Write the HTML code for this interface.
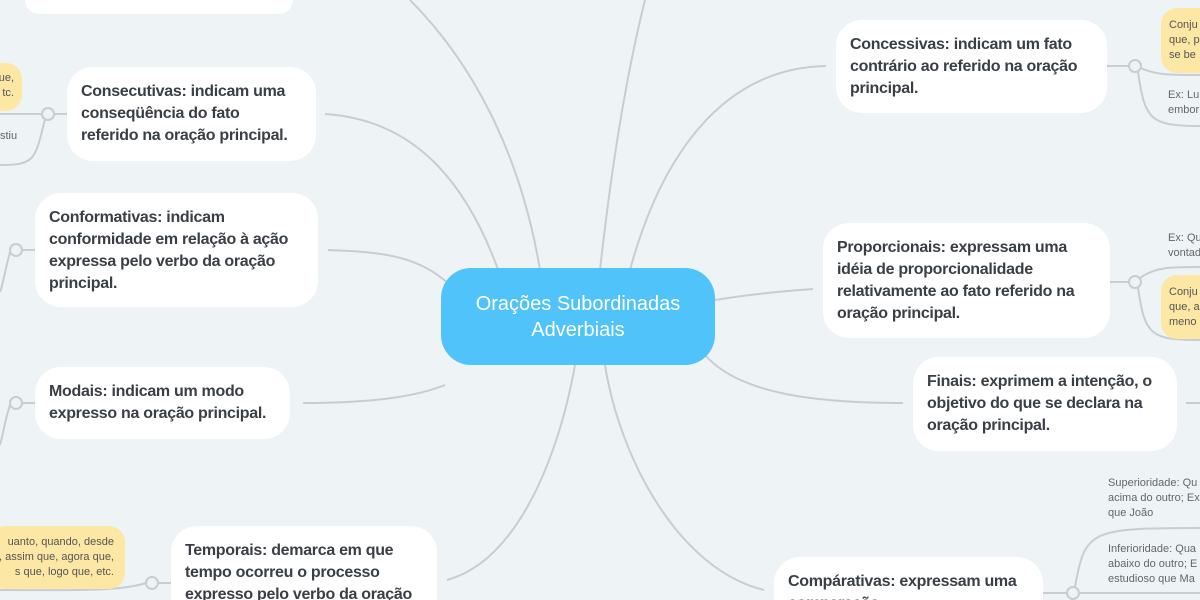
<!DOCTYPE html>
<html><head><meta charset="utf-8"><style>
html,body{margin:0;padding:0;width:1200px;height:600px;overflow:hidden}
body{background:#eef3f6;position:relative;font-family:"Liberation Sans",sans-serif}
.n{position:absolute;background:#fff;border-radius:26px;box-sizing:border-box;color:#3a3f45;font-weight:bold;font-size:16px;line-height:22px;padding:14px 14px;letter-spacing:-0.3px}
.c{border-bottom-left-radius:0;border-bottom-right-radius:0;overflow:hidden}
.y{position:absolute;background:#fde7a4;border-radius:16px;color:#555;font-size:11px;line-height:15px;box-sizing:border-box;padding:8px 8px;overflow:hidden;white-space:nowrap}
.t{position:absolute;color:#666;font-size:11px;line-height:15px;white-space:nowrap}
svg{position:absolute;left:0;top:0}
</style></head><body>
<svg width="1200" height="600" fill="none" stroke="#c8cdd1" stroke-width="2">
<path d="M410 0 C470 60 520 150 540 270"/>
<path d="M645 0 C625 80 610 180 600 270"/>
<path d="M325 114 C420 120 470 190 500 275"/>
<path d="M328 250 C390 252 420 258 450 285"/>
<path d="M303 403 C380 403 420 395 445 385"/>
<path d="M447 580 C520 560 560 450 575 365"/>
<path d="M826 66 C720 68 660 160 630 270"/>
<path d="M813 289 C770 292 740 296 715 300"/>
<path d="M903 403 C820 403 740 395 705 355"/>
<path d="M764 590 C680 570 620 460 605 365"/>
<path d="M67 114 H54"/><path d="M42 114 H0"/><path d="M45 119 C35 160 35 165 0 165"/>
<path d="M35 250 H22"/><path d="M10 252 C5 270 3 285 0 292"/>
<path d="M35 403 H22"/><path d="M10 405 C5 420 3 435 0 445"/>
<path d="M171 583 H158"/><path d="M146 583 C120 592 60 590 0 590"/>
<path d="M1107 66 H1129"/><path d="M1141 68 C1155 75 1170 75 1200 75"/><path d="M1138 72 C1145 120 1150 126 1200 126"/>
<path d="M1110 282 H1129"/><path d="M1140 278 C1155 267 1170 267 1200 267"/><path d="M1138 288 C1145 335 1150 340 1200 340"/>
<path d="M1186 403 H1200"/>
<path d="M1043 593 H1067"/><path d="M1079 593 H1200"/><path d="M1075 587 C1085 530 1090 528 1200 528"/>
<g fill="#eef3f6"><circle cx="48" cy="114" r="6"/><circle cx="16" cy="250" r="6"/><circle cx="16" cy="403" r="6"/><circle cx="152" cy="583" r="6"/><circle cx="1135" cy="66" r="6"/><circle cx="1135" cy="282" r="6"/><circle cx="1073" cy="593" r="6"/></g>
</svg>
<div class="n" style="left:25px;top:0;width:268px;height:14px;border-radius:0 0 26px 26px;padding:0"></div>
<div class="n" style="left:67px;top:67px;width:249px;height:94px">Consecutivas: indicam uma<br>conseqüência do fato<br>referido na oração principal.</div>
<div class="n" style="left:35px;top:193px;width:283px;height:114px">Conformativas: indicam conformidade em relação à ação expressa pelo verbo da oração principal.</div>
<div class="n" style="left:35px;top:367px;width:255px;height:72px">Modais: indicam um modo<br>expresso na oração principal.</div>
<div class="n c" style="left:171px;top:526px;width:266px;height:74px">Temporais: demarca em que tempo ocorreu o processo expresso pelo verbo da oração</div>
<div class="n" style="left:836px;top:20px;width:271px;height:93px">Concessivas: indicam um fato contrário ao referido na oração principal.</div>
<div class="n" style="left:823px;top:223px;width:287px;height:115px">Proporcionais: expressam uma idéia de proporcionalidade relativamente ao fato referido na oração principal.</div>
<div class="n" style="left:913px;top:357px;width:264px;height:94px">Finais: exprimem a intenção, o objetivo do que se declara na oração principal.</div>
<div class="n c" style="left:774px;top:557px;width:269px;height:43px">Compárativas: expressam uma comparação</div>
<div style="position:absolute;left:441px;top:268px;width:274px;height:97px;border-radius:30px;background:#50c3fa;color:#fff;font-size:20px;line-height:26px;text-align:center;display:flex;align-items:center;justify-content:center">Orações Subordinadas<br>Adverbiais</div>
<div class="y" style="left:-20px;top:63px;width:42px;height:48px;text-align:right">ue,<br>tc.</div>
<div class="y" style="left:-10px;top:526px;width:135px;height:63px;padding-top:9px;text-align:right;padding-right:11px">uanto, quando, desde<br>, assim que, agora que,<br>s que, logo que, etc.</div>
<div class="y" style="left:1161px;top:8px;width:60px;height:65px;padding-top:10px">Conju<br>que, p<br>se be</div>
<div class="y" style="left:1161px;top:275px;width:60px;height:64px;padding-top:10px">Conju<br>que, a<br>meno</div>
<div class="t" style="left:0;top:129px">stiu</div>
<div class="t" style="left:1168px;top:88px">Ex: Lu<br>embor</div>
<div class="t" style="left:1168px;top:231px">Ex: Qu<br>vontad</div>
<div class="t" style="left:1108px;top:476px">Superioridade: Qu<br>acima do outro; Ex<br>que João</div>
<div class="t" style="left:1108px;top:542px">Inferioridade: Qua<br>abaixo do outro; E<br>estudioso que Ma</div>
</body></html>
